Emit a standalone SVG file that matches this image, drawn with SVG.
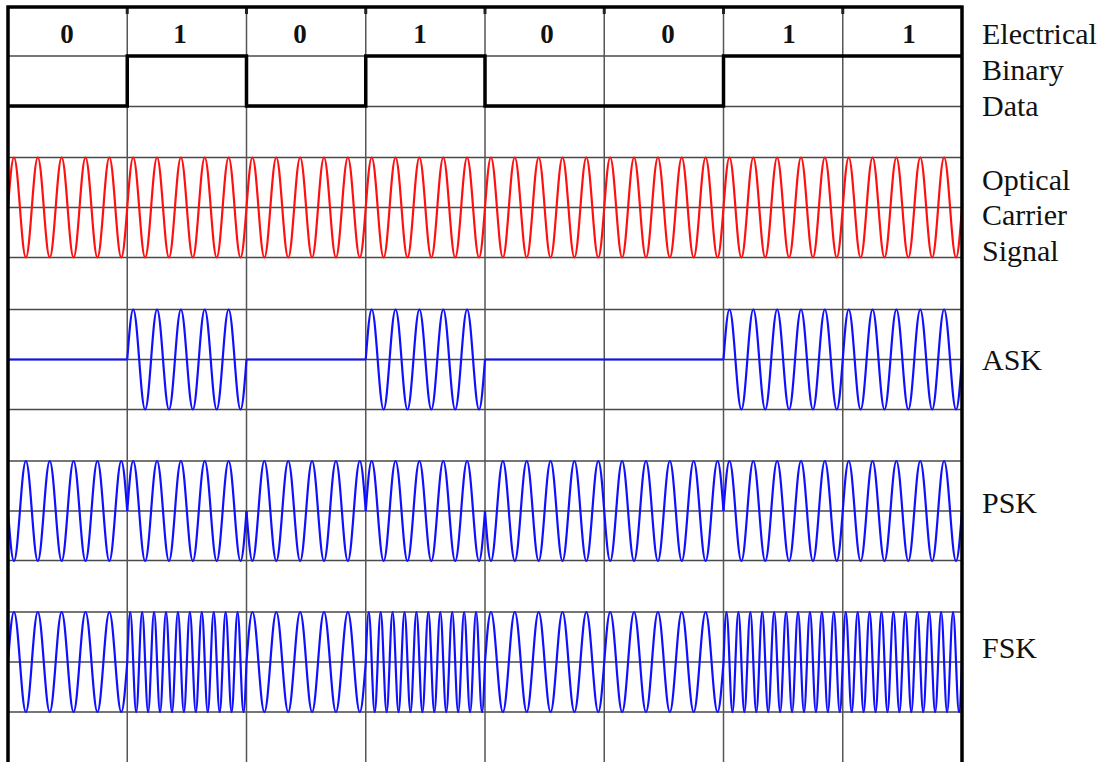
<svg xmlns="http://www.w3.org/2000/svg" xmlns:xlink="http://www.w3.org/1999/xlink" width="1105" height="762" viewBox="0 0 1105 762">
<style>
.grid{stroke:#4a4a4a;stroke-width:1.5;fill:none}
.vgrid{stroke:#555;stroke-width:1.5;fill:none}
.border{stroke:#000;stroke-width:3.5;fill:none}
.red{stroke:#ff1010;stroke-width:2.2;fill:none}
.blue{stroke:#1010ff;stroke-width:2.2;fill:none}
.lbl{font-family:"Liberation Serif","Times New Roman",serif;font-size:30px;fill:#111}
.bit{font-family:"Liberation Serif","Times New Roman",serif;font-size:27px;font-weight:bold;fill:#111;text-anchor:middle}
</style>
<defs>
<path id="c5" d="M0,0 c1.944,-25.61 3.805,-50 5.9625,-50 s4.019,24.39 5.9625,50 s3.805,50 5.9625,50 s4.019,-24.39 5.9625,-50
s3.805,-50 5.9625,-50 s4.019,24.39 5.9625,50 s3.805,50 5.9625,50 s4.019,-24.39 5.9625,-50
s3.805,-50 5.9625,-50 s4.019,24.39 5.9625,50 s3.805,50 5.9625,50 s4.019,-24.39 5.9625,-50
s3.805,-50 5.9625,-50 s4.019,24.39 5.9625,50 s3.805,50 5.9625,50 s4.019,-24.39 5.9625,-50
s3.805,-50 5.9625,-50 s4.019,24.39 5.9625,50 s3.805,50 5.9625,50 s4.019,-24.39 5.9625,-50"/>
<path id="c10" d="M0,0 c0.972,-25.61 1.902,-50 2.98125,-50 s2.009,24.39 2.98125,50 s1.902,50 2.98125,50 s2.009,-24.39 2.98125,-50
s1.902,-50 2.98125,-50 s2.009,24.39 2.98125,50 s1.902,50 2.98125,50 s2.009,-24.39 2.98125,-50
s1.902,-50 2.98125,-50 s2.009,24.39 2.98125,50 s1.902,50 2.98125,50 s2.009,-24.39 2.98125,-50
s1.902,-50 2.98125,-50 s2.009,24.39 2.98125,50 s1.902,50 2.98125,50 s2.009,-24.39 2.98125,-50
s1.902,-50 2.98125,-50 s2.009,24.39 2.98125,50 s1.902,50 2.98125,50 s2.009,-24.39 2.98125,-50
s1.902,-50 2.98125,-50 s2.009,24.39 2.98125,50 s1.902,50 2.98125,50 s2.009,-24.39 2.98125,-50
s1.902,-50 2.98125,-50 s2.009,24.39 2.98125,50 s1.902,50 2.98125,50 s2.009,-24.39 2.98125,-50
s1.902,-50 2.98125,-50 s2.009,24.39 2.98125,50 s1.902,50 2.98125,50 s2.009,-24.39 2.98125,-50
s1.902,-50 2.98125,-50 s2.009,24.39 2.98125,50 s1.902,50 2.98125,50 s2.009,-24.39 2.98125,-50
s1.902,-50 2.98125,-50 s2.009,24.39 2.98125,50 s1.902,50 2.98125,50 s2.009,-24.39 2.98125,-50"/>
</defs>
<rect width="1105" height="762" fill="#fff"/>
<g id="grid">
<path class="grid" d="M8,56H962 M8,106.5H962 M8,157.5H962 M8,207.5H962 M8,257.5H962 M8,309.5H962 M8,359.5H962 M8,409.5H962 M8,461H962 M8,511H962 M8,560.5H962 M8,612H962 M8,662H962 M8,712H962"/>
<path class="vgrid" d="M127.25,7V762 M246.5,7V762 M365.75,7V762 M485,7V762 M604.25,7V762 M723.5,7V762 M842.75,7V762"/>
<path stroke="#222" stroke-width="3" d="M127.25,7V14 M246.5,7V14 M365.75,7V14 M485,7V14 M604.25,7V14 M723.5,7V14 M842.75,7V14"/>
</g>
<g id="bits">
<text class="bit" x="67" y="43">0</text>
<text class="bit" x="180" y="43">1</text>
<text class="bit" x="300" y="43">0</text>
<text class="bit" x="420" y="43">1</text>
<text class="bit" x="547" y="43">0</text>
<text class="bit" x="668" y="43">0</text>
<text class="bit" x="789" y="43">1</text>
<text class="bit" x="909" y="43">1</text>
</g>
<g id="binary-data">
<polyline fill="none" stroke="#000" stroke-width="3.5" points="8,106 127.25,106 127.25,56 246.5,56 246.5,106 365.75,106 365.75,56 485,56 485,106 723.5,106 723.5,56 962,56"/>
</g>
<g id="carrier" class="red">
<use xlink:href="#c5" transform="translate(8,207.5)"/>
<use xlink:href="#c5" transform="translate(127.25,207.5)"/>
<use xlink:href="#c5" transform="translate(246.5,207.5)"/>
<use xlink:href="#c5" transform="translate(365.75,207.5)"/>
<use xlink:href="#c5" transform="translate(485,207.5)"/>
<use xlink:href="#c5" transform="translate(604.25,207.5)"/>
<use xlink:href="#c5" transform="translate(723.5,207.5)"/>
<use xlink:href="#c5" transform="translate(842.75,207.5)"/>
</g>
<g id="ask" class="blue">
<path d="M8,359.5H127.25 M246.5,359.5H365.75 M485,359.5H723.5"/>
<use xlink:href="#c5" transform="translate(127.25,359.5)"/>
<use xlink:href="#c5" transform="translate(365.75,359.5)"/>
<use xlink:href="#c5" transform="translate(723.5,359.5)"/>
<use xlink:href="#c5" transform="translate(842.75,359.5)"/>
</g>
<g id="psk" class="blue">
<use xlink:href="#c5" transform="translate(8,511) scale(1,-1)"/>
<use xlink:href="#c5" transform="translate(127.25,511)"/>
<use xlink:href="#c5" transform="translate(246.5,511) scale(1,-1)"/>
<use xlink:href="#c5" transform="translate(365.75,511)"/>
<use xlink:href="#c5" transform="translate(485,511) scale(1,-1)"/>
<use xlink:href="#c5" transform="translate(604.25,511) scale(1,-1)"/>
<use xlink:href="#c5" transform="translate(723.5,511)"/>
<use xlink:href="#c5" transform="translate(842.75,511)"/>
</g>
<g id="fsk" class="blue">
<use xlink:href="#c5" transform="translate(8,662)"/>
<use xlink:href="#c10" transform="translate(127.25,662)"/>
<use xlink:href="#c5" transform="translate(246.5,662)"/>
<use xlink:href="#c10" transform="translate(365.75,662)"/>
<use xlink:href="#c5" transform="translate(485,662)"/>
<use xlink:href="#c5" transform="translate(604.25,662)"/>
<use xlink:href="#c10" transform="translate(723.5,662)"/>
<use xlink:href="#c10" transform="translate(842.75,662)"/>
</g>
<g id="frame">
<path class="border" d="M6.5,7H963.5 M8,5.5V762 M962,5.5V762"/>
</g>
<g id="labels">
<text class="lbl" x="982" y="44">Electrical</text>
<text class="lbl" x="982" y="80">Binary</text>
<text class="lbl" x="982" y="116">Data</text>
<text class="lbl" x="982" y="190">Optical</text>
<text class="lbl" x="982" y="225">Carrier</text>
<text class="lbl" x="982" y="261">Signal</text>
<text class="lbl" x="982" y="370">ASK</text>
<text class="lbl" x="982" y="513">PSK</text>
<text class="lbl" x="982" y="658">FSK</text>
</g>
</svg>
